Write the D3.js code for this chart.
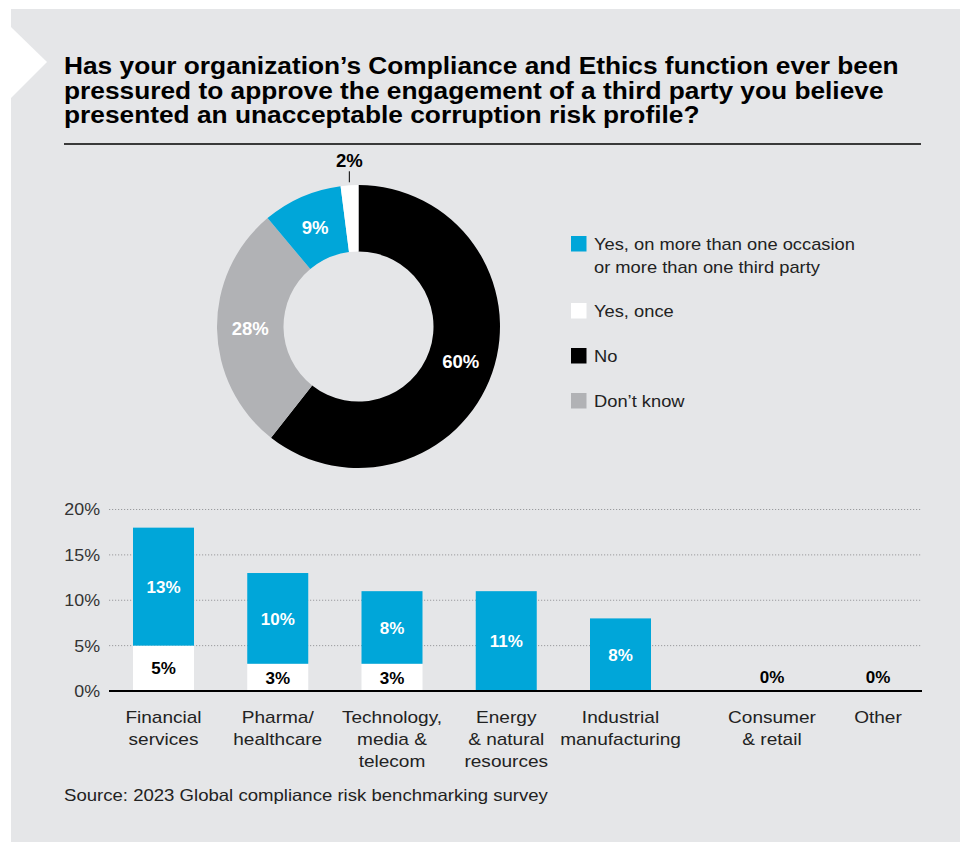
<!DOCTYPE html>
<html><head><meta charset="utf-8">
<script src="https://cdn.jsdelivr.net/npm/d3@7"></script>
<style>
html,body{margin:0;padding:0;background:#fff;}
svg{display:block;font-family:"Liberation Sans",Arial,sans-serif;}
</style></head>
<body>
<svg id="c" width="960" height="842"></svg>
<script>
const titleLines = [
  "Has your organization\u2019s Compliance and Ethics function ever been",
  "pressured to approve the engagement of a third party you believe",
  "presented an unacceptable corruption risk profile?"
];
const pieCategories = ["No", "Don\u2019t know", "Yes, on more than one occasion or more than one third party", "Yes, once"];
const pieValues = [60, 28, 9, 2];
const legendLabels = [
  ["Yes, on more than one occasion", "or more than one third party"],
  ["Yes, once"],
  ["No"],
  ["Don\u2019t know"]
];
const barCategories = [
  ["Financial", "services"],
  ["Pharma/", "healthcare"],
  ["Technology,", "media &", "telecom"],
  ["Energy", "& natural", "resources"],
  ["Industrial", "manufacturing"],
  ["Consumer", "& retail"],
  ["Other"]
];
const yesOnce = [5, 3, 3, 0, 0, 0, 0];
const yesMore = [13, 10, 8, 11, 8, 0, 0];
const yTicks = [0, 5, 10, 15, 20];
const sourceText = "Source: 2023 Global compliance risk benchmarking survey";

const BLUE = "#00a6d9", GREY = "#b1b2b5", BG = "#e5e6e8";
const svg = d3.select("#c");

function stretch(sel, f) {
  sel.each(function () {
    const w = this.getComputedTextLength();
    d3.select(this).attr("textLength", w * f).attr("lengthAdjust", "spacingAndGlyphs");
  });
}

// panel
svg.append("rect").attr("x", 11).attr("y", 9).attr("width", 949).attr("height", 833).attr("fill", BG);
svg.append("path").attr("d", "M11,27 L47,62 L11,98 Z").attr("fill", "#fff");

// title
const tt = svg.append("g").selectAll("text").data(titleLines).join("text")
  .attr("x", 64).attr("y", (d, i) => 74 + i * 24.5)
  .attr("font-size", 23).attr("font-weight", "bold").attr("fill", "#000")
  .text(d => d);
stretch(tt, 1.143);
svg.append("line").attr("x1", 64).attr("x2", 921).attr("y1", 144).attr("y2", 144)
  .attr("stroke", "#000").attr("stroke-width", 1.5);

// donut
const cx = 358.5, cy = 326.5, R = 141.5, r = 75;
const pieColors = ["#000", GREY, BLUE, "#fff"];
const pie = d3.pie().sort(null).value(d => d)(pieValues);
const arc = d3.arc().innerRadius(r).outerRadius(R);
const dg = svg.append("g").attr("transform", `translate(${cx},${cy})`);
dg.selectAll("path").data(pie).join("path").attr("d", arc).attr("fill", (d, i) => pieColors[i]);
const labelArc = d3.arc().innerRadius((r + R) / 2).outerRadius((r + R) / 2);
const pl = dg.selectAll("text.pl").data(pie.slice(0, 3)).join("text").attr("class", "pl")
  .attr("transform", d => `translate(${labelArc.centroid(d)})`)
  .attr("text-anchor", "middle").attr("dy", "0.36em")
  .attr("font-size", 17.5).attr("font-weight", "bold").attr("fill", "#fff")
  .text(d => d.data + "%");
stretch(pl, 1.06);
// small slice label outside
const small = pie[3];
const mid = (small.startAngle + small.endAngle) / 2;
const px = Math.sin(mid) * (R + 3), py = -Math.cos(mid) * (R + 3);
dg.append("line").attr("x1", px).attr("x2", px).attr("y1", py).attr("y2", py - 11)
  .attr("stroke", "#000").attr("stroke-width", 1);
const sl = dg.append("text").attr("x", px).attr("y", py - 15).attr("text-anchor", "middle")
  .attr("font-size", 17.5).attr("font-weight", "bold").attr("fill", "#000").text(small.data + "%");
stretch(sl, 1.06);

// legend
const legColors = [BLUE, "#fff", "#000", GREY];
const lg = svg.append("g");
const legY = [236, 303, 348, 393];
legendLabels.forEach((lines, i) => {
  lg.append("rect").attr("x", 571).attr("y", legY[i]).attr("width", 15.5).attr("height", 15.5).attr("fill", legColors[i]);
  lines.forEach((t, j) => {
    lg.append("text").attr("x", 594).attr("y", legY[i] + 14 + j * 23)
      .attr("font-size", 17).attr("fill", "#222").text(t);
  });
});
stretch(lg.selectAll("text"), 1.077);

// bar chart
const y = d3.scaleLinear().domain([0, 20]).range([691, 509.5]);
const xLeft = 109, xRight = 922;
const idx = barCategories.map((d, i) => i);
const xc = d3.scaleLinear().domain([0, 4, 5, 6]).range([163.5, 620.5, 772, 878]);
const bw = 61;

const grid = svg.append("g");
grid.selectAll("line").data(yTicks.filter(t => t > 0)).join("line")
  .attr("x1", xLeft).attr("x2", xRight).attr("y1", d => y(d)).attr("y2", d => y(d))
  .attr("stroke", "#9a9b9e").attr("stroke-width", 1).attr("stroke-dasharray", "1.2,1.8");

const yAxis = d3.axisLeft(y).tickValues(yTicks).tickSize(0).tickPadding(0).tickFormat(d => d + "%");
const ya = svg.append("g").attr("transform", "translate(100,0)").call(yAxis);
ya.select(".domain").remove();
ya.selectAll("text").attr("font-size", 17).attr("fill", "#333")
  .attr("font-family", "\"Liberation Sans\",Arial,sans-serif");
stretch(ya.selectAll("text"), 1.05);

const bars = svg.append("g");
bars.selectAll("rect.once").data(idx.filter(i => yesOnce[i] > 0)).join("rect").attr("class", "once")
  .attr("x", i => xc(i) - bw / 2).attr("width", bw)
  .attr("y", i => y(yesOnce[i])).attr("height", i => y(0) - y(yesOnce[i])).attr("fill", "#fff");
bars.selectAll("rect.more").data(idx.filter(i => yesMore[i] > 0)).join("rect").attr("class", "more")
  .attr("x", i => xc(i) - bw / 2).attr("width", bw)
  .attr("y", i => y(yesOnce[i] + yesMore[i])).attr("height", i => y(yesOnce[i]) - y(yesOnce[i] + yesMore[i]))
  .attr("fill", BLUE);

bars.selectAll("text.lm").data(idx.filter(i => yesMore[i] > 0)).join("text").attr("class", "lm")
  .attr("x", i => xc(i)).attr("y", i => (y(yesOnce[i]) + y(yesOnce[i] + yesMore[i])) / 2)
  .attr("dy", "0.36em").attr("text-anchor", "middle")
  .attr("font-size", 17).attr("font-weight", "bold").attr("fill", "#fff")
  .text(i => yesMore[i] + "%");
bars.selectAll("text.lo").data(idx.filter(i => yesOnce[i] > 0)).join("text").attr("class", "lo")
  .attr("x", i => xc(i)).attr("y", i => (y(0) + y(yesOnce[i])) / 2)
  .attr("dy", "0.36em").attr("text-anchor", "middle")
  .attr("font-size", 17).attr("font-weight", "bold").attr("fill", "#000")
  .text(i => yesOnce[i] + "%");
bars.selectAll("text.lz").data(idx.filter(i => yesOnce[i] + yesMore[i] === 0)).join("text").attr("class", "lz")
  .attr("x", i => xc(i)).attr("y", y(0) - 8)
  .attr("text-anchor", "middle")
  .attr("font-size", 17).attr("font-weight", "bold").attr("fill", "#000")
  .text("0%");

svg.append("line").attr("x1", xLeft).attr("x2", xRight).attr("y1", y(0)).attr("y2", y(0))
  .attr("stroke", "#000").attr("stroke-width", 2.2);

const cl = svg.append("g");
idx.forEach(i => {
  barCategories[i].forEach((t, j) => {
    cl.append("text").attr("x", xc(i)).attr("y", 723 + j * 22)
      .attr("text-anchor", "middle").attr("font-size", 17).attr("fill", "#222").text(t);
  });
});
stretch(cl.selectAll("text"), 1.12);

const src = svg.append("text").attr("x", 64).attr("y", 801).attr("font-size", 16.5).attr("fill", "#222").text(sourceText);
stretch(src, 1.125);
</script>
</body></html>
